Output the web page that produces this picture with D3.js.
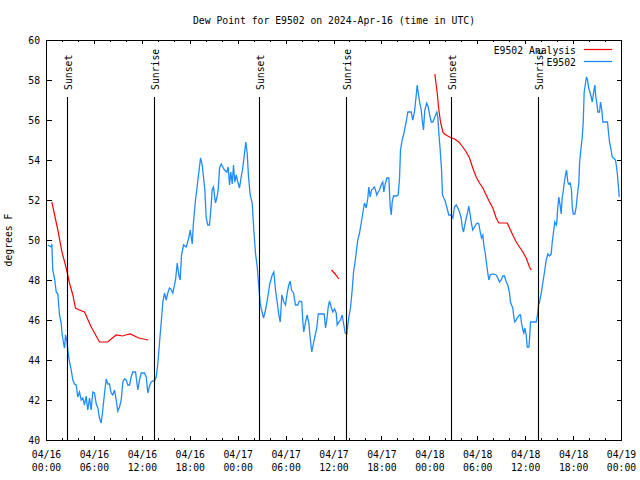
<!DOCTYPE html>
<html><head><meta charset="utf-8">
<script src="https://cdn.jsdelivr.net/npm/d3@7"></script>
<style>body{margin:0;background:#fff}svg{display:block}</style>
</head><body><svg id="c" width="640" height="480"></svg>
<script>
const chartTitle = "Dew Point for E9502 on 2024-Apr-16 (time in UTC)";
const yAxisLabel = "degrees F";
const startTime = "2024-04-16T00:00:00Z";
const endTime = "2024-04-19T00:00:00Z";
const yTicks = [40, 42, 44, 46, 48, 50, 52, 54, 56, 58, 60];
const seriesNames = ["E9502 Analysis", "E9502"];

// observed series: hours after 2024-04-16 00:00 UTC, and dew point (F)
const obsHours = [0.23,0.65,0.73,0.85,1.10,1.28,1.48,1.69,1.90,2.03,2.19,2.32,2.44,2.60,2.73,2.94,3.16,3.36,3.57,3.78,3.98,4.19,4.41,4.61,4.82,5.03,5.23,5.45,5.66,5.86,6.07,6.29,6.49,6.70,6.91,7.11,7.33,7.54,7.74,7.95,8.16,8.36,8.58,8.79,8.99,9.20,9.42,9.62,9.83,10.04,10.24,10.46,10.67,10.87,11.21,11.50,11.71,11.92,12.33,12.55,12.75,12.96,13.17,13.37,13.59,13.80,14.00,14.21,14.43,14.63,14.84,15.05,15.25,15.46,15.63,15.88,16.22,16.43,16.63,16.80,16.97,17.22,17.56,17.88,18.06,18.31,18.47,18.72,18.88,19.06,19.22,19.35,19.56,19.72,19.89,20.06,20.26,20.47,20.64,20.81,20.97,21.22,21.39,21.56,21.73,21.94,22.14,22.35,22.64,22.82,22.98,23.14,23.32,23.48,23.64,23.82,24.02,24.23,24.44,24.64,24.86,25.02,25.19,25.36,25.57,25.82,26.02,26.23,26.45,26.65,26.82,26.99,27.24,27.49,27.77,28.02,28.33,28.53,28.74,29.03,29.15,29.33,29.53,29.78,29.99,30.20,30.40,30.58,30.74,30.99,31.24,31.53,31.74,32.03,32.16,32.28,32.50,32.71,32.91,33.08,33.28,33.50,33.71,33.91,34.09,34.46,34.84,35.00,35.16,35.34,35.50,35.71,35.91,36.13,36.34,36.46,36.67,36.88,37.09,37.25,37.47,37.67,37.92,38.13,38.34,38.51,38.72,38.88,39.04,39.26,39.47,39.67,39.88,40.10,40.30,40.42,40.60,40.76,40.92,41.10,41.26,41.42,41.60,41.76,41.97,42.17,42.30,42.48,42.68,42.93,43.10,43.23,43.35,43.51,43.85,44.10,44.27,44.39,44.60,44.80,45.10,45.31,45.73,45.93,46.14,46.36,46.48,46.65,46.81,46.98,47.15,47.27,47.43,47.68,47.86,48.02,48.24,48.44,48.69,48.94,49.06,49.19,49.36,49.53,49.65,49.81,49.99,50.11,50.28,50.44,50.74,50.94,51.15,51.37,51.57,51.78,51.99,52.12,52.28,52.44,52.62,52.78,52.94,53.12,53.28,53.44,53.66,53.87,54.07,54.20,54.37,54.53,54.70,54.82,55.00,55.12,55.32,55.45,55.62,55.95,56.37,56.57,56.79,57.00,57.20,57.41,57.63,57.83,58.04,58.16,58.29,58.45,58.58,58.70,58.88,59.08,59.29,59.42,59.54,59.71,59.83,59.96,60.13,60.26,60.46,60.54,60.67,60.96,61.38,61.51,61.67,61.80,62.01,62.21,62.42,62.64,62.84,63.05,63.26,63.39,63.55,63.71,63.89,63.96,64.09,64.21,64.39,64.51,64.64,64.76,64.89,65.05,65.18,65.34,65.47,65.64,65.80,65.89,66.02,66.22,66.39,66.55,66.72,66.81,66.97,67.14,67.27,67.39,67.56,67.68,67.81,67.93,68.10,68.27,68.40,68.56,68.72,68.85,68.97,69.10,69.31,69.44,69.60,69.72,70.06,70.31,70.44,70.56,70.72,70.90,71.06,71.31,71.44,71.56,71.69,71.78];
const obsValues = [49.75,49.65,49.8,48.5,48.0,47.4,47.3,46.25,45.85,45.25,44.85,44.6,45.25,45.0,44.5,43.9,43.5,43.0,42.8,42.75,42.15,42.4,42.0,42.1,41.75,42.2,41.5,42.1,41.5,42.4,42.35,41.8,41.6,41.1,40.85,41.5,42.35,43.05,42.8,42.8,42.35,42.25,42.5,42.0,41.45,41.65,42.0,42.9,43.05,43.0,42.75,42.75,43.15,43.4,43.4,42.5,43.0,43.35,43.35,43.15,42.35,42.7,42.9,42.95,42.95,43.15,43.8,44.85,45.9,46.9,47.35,47.0,47.35,47.6,47.55,47.35,48.0,48.85,48.25,48.0,49.25,49.75,49.65,50.1,50.5,49.8,50.9,52.0,52.5,53.15,53.65,54.1,53.75,53.15,52.5,51.1,50.75,50.75,51.5,52.5,52.65,51.85,52.1,52.5,53.6,53.8,53.65,53.5,53.4,53.65,52.75,53.4,52.8,53.75,52.9,53.25,52.9,52.6,53.15,53.6,54.35,54.9,54.35,53.15,52.25,51.85,50.5,49.35,48.65,47.65,46.85,46.5,46.1,46.5,47.15,47.8,48.25,48.4,47.5,46.65,46.25,45.9,47.25,46.9,46.75,47.35,47.75,47.95,47.5,47.35,46.75,46.75,46.95,46.9,45.9,45.4,45.9,46.25,45.85,45.1,44.4,44.85,45.25,45.6,46.3,46.3,46.3,45.6,46.0,46.65,46.95,46.65,46.4,46.55,46.35,45.75,45.9,46.0,46.25,45.85,45.35,45.3,46.15,46.6,47.5,48.4,48.95,49.5,50.0,50.35,50.85,51.35,51.85,51.6,52.1,52.65,52.15,52.5,52.55,52.65,52.5,52.25,52.4,52.5,52.75,52.9,52.4,52.8,53.1,53.1,51.65,51.25,51.9,52.2,52.2,52.25,53.1,54.5,55.0,55.3,55.9,56.4,56.4,56.0,56.4,57.25,57.75,57.25,56.85,56.5,55.85,55.5,56.5,56.85,56.65,56.3,55.9,55.9,56.15,56.4,56.15,55.35,54.5,53.5,52.25,52.1,51.95,51.75,51.5,51.25,51.25,51.1,51.65,51.75,51.6,51.4,51.1,50.65,50.4,50.75,51.1,51.35,51.7,51.25,50.8,50.5,50.65,50.8,50.85,50.8,50.4,50.1,50.25,49.75,49.35,48.95,48.35,48.0,48.25,48.3,48.25,48.1,47.9,48.0,48.2,48.2,47.9,47.75,47.35,46.9,46.75,46.6,46.15,45.9,46.0,46.15,46.25,46.25,45.85,45.5,45.35,45.6,45.25,44.65,44.65,45.0,45.9,45.9,45.9,46.15,46.75,46.9,47.35,47.85,48.4,49.0,49.3,49.2,49.3,49.9,50.4,50.9,50.75,50.9,51.65,52.15,51.7,51.3,52.15,52.4,52.85,53.25,53.5,52.9,52.8,52.85,52.5,51.7,51.3,51.3,51.65,52.3,52.85,53.85,54.5,55.1,55.9,57.4,57.85,58.15,58.0,57.65,57.4,57.15,56.9,57.35,57.75,57.15,56.85,56.4,56.4,56.9,56.5,55.9,55.9,55.9,55.35,54.9,54.6,54.15,54.1,54.0,53.65,53.25,52.6,52.15];

// analysis series (null marks a gap)
const anaHours = [0.73,1.48,2.03,2.53,2.94,3.36,3.69,4.19,4.82,5.66,6.70,7.74,8.16,8.79,9.62,9.95,10.54,11.08,11.62,12.80,null,35.75,36.20,36.67,null,48.69,48.99,49.15,49.40,49.69,49.90,50.53,51.15,51.69,52.19,52.62,53.03,53.44,53.87,54.28,54.70,55.12,55.54,55.95,56.37,56.70,57.75,58.04,58.45,58.88,59.29,59.71,60.13,60.54,60.76];
const anaValues = [51.9,50.5,49.35,48.6,47.85,47.25,46.6,46.5,46.4,45.65,44.9,44.9,45.05,45.25,45.2,45.25,45.3,45.2,45.1,45.0,null,48.5,48.3,48.05,null,58.3,57.35,56.65,55.9,55.4,55.3,55.15,55.05,54.9,54.65,54.4,54.1,53.6,53.15,52.85,52.6,52.25,51.9,51.6,51.1,50.85,50.85,50.6,50.25,49.9,49.65,49.4,49.1,48.65,48.5];

const sunLabels = ["Sunset","Sunrise","Sunset","Sunrise","Sunset","Sunrise"];
const sunTimes = ["2024-04-16T02:36:00Z","2024-04-16T13:30:00Z","2024-04-17T02:39:00Z","2024-04-17T13:32:00Z","2024-04-18T02:41:00Z","2024-04-18T13:34:00Z"];
const sunLineTop = 57.15;
const sunLabelAt = 57.5;

const FONT = "DejaVu Sans Mono";
const FS = 11;
const CW = 5.88;
const t0 = new Date(startTime).getTime();
const toDate = h => new Date(t0 + h * 3600000);

const x = d3.scaleUtc().domain([new Date(startTime), new Date(endTime)]).range([46, 621]);
const y = d3.scaleLinear().domain([40, 60]).range([440, 40]);
const svg = d3.select("#c");

function fit(sel) {
  sel.each(function () {
    const s = this.textContent;
    if (s.length) {
      this.setAttribute("textLength", (s.length * CW).toFixed(2));
      this.setAttribute("lengthAdjust", "spacingAndGlyphs");
    }
  });
}
function txt(g) { return g.attr("font-family", FONT).attr("font-size", FS).attr("fill", "#000"); }

const [d0, d1] = x.domain();
const majorT = d3.utcHour.every(6).range(d0, new Date(d1.getTime() + 1));
const minorT = d3.utcHour.every(2).range(d0, new Date(d1.getTime() + 1)).filter(d => d.getUTCHours() % 6 !== 0);

function styleAxis(g) {
  g.select(".domain").remove();
  g.selectAll("line").attr("stroke", "#000").attr("shape-rendering", "crispEdges");
  g.attr("font-family", FONT).attr("font-size", FS);
}

// bottom & top axes
svg.append("g").attr("transform", "translate(0,440)")
  .call(d3.axisBottom(x).tickValues(majorT).tickSize(-4).tickFormat("")).call(styleAxis);
svg.append("g").attr("transform", "translate(0,440)")
  .call(d3.axisBottom(x).tickValues(minorT).tickSize(-2).tickFormat("")).call(styleAxis);
svg.append("g").attr("transform", "translate(0,40)")
  .call(d3.axisTop(x).tickValues(majorT).tickSize(-4).tickFormat("")).call(styleAxis);
svg.append("g").attr("transform", "translate(0,40)")
  .call(d3.axisTop(x).tickValues(minorT).tickSize(-2).tickFormat("")).call(styleAxis);

// left & right axes
const gy = svg.append("g").attr("transform", "translate(46.5,0)")
  .call(d3.axisLeft(y).tickValues(yTicks).tickSize(-5).tickPadding(6.5).tickFormat(d3.format("d"))).call(styleAxis);
gy.selectAll("text").attr("fill", "#000").call(fit);
svg.append("g").attr("transform", "translate(621.5,0)")
  .call(d3.axisRight(y).tickValues(yTicks).tickSize(-5).tickFormat("")).call(styleAxis);

// x tick labels (two lines)
const fmtDay = d3.utcFormat("%m/%d"), fmtHour = d3.utcFormat("%H:%M");
const xl = svg.append("g").call(txt).attr("text-anchor", "middle");
majorT.forEach(d => {
  const cx = x(d) + 0.5;
  xl.append("text").attr("x", cx).attr("y", 458).text(fmtDay(d)).call(fit);
  xl.append("text").attr("x", cx).attr("y", 471).text(fmtHour(d)).call(fit);
});

// frame
svg.append("rect").attr("x", 46.5).attr("y", 40.5).attr("width", 575).attr("height", 400)
  .attr("fill", "none").attr("stroke", "#000").attr("stroke-width", 1).attr("shape-rendering", "crispEdges");

// clip
svg.append("clipPath").attr("id", "plot").append("rect").attr("x", 46.5).attr("y", 40.5).attr("width", 575).attr("height", 400);

const obs = obsHours.map((h, i) => ({ t: toDate(h), v: obsValues[i] }));
const ana = anaHours.map((h, i) => ({ t: h == null ? null : toDate(h), v: anaValues[i] }));
const line = d3.line().defined(d => d.v != null && d.t != null).x(d => x(d.t)).y(d => y(d.v));

const gd = svg.append("g").attr("clip-path", "url(#plot)");
gd.append("path").datum(ana).attr("d", line).attr("fill", "none").attr("stroke", "#ff0000").attr("stroke-width", 1.2);
gd.append("path").datum(obs).attr("d", line).attr("fill", "none").attr("stroke", "#1e8cff").attr("stroke-width", 1.3);

// sunrise / sunset markers
const gs = svg.append("g");
sunTimes.forEach((s, i) => {
  const sx = Math.round(x(new Date(s))) + 0.5;
  gs.append("line").attr("x1", sx).attr("x2", sx).attr("y1", y(sunLineTop)).attr("y2", y(40))
    .attr("stroke", "#000").attr("stroke-width", 1.1);
  gs.append("text").call(txt).attr("transform", `translate(${sx + 4.5},${y(sunLabelAt)}) rotate(-90)`)
    .attr("text-anchor", "start").text(sunLabels[i]).call(fit);
});

// title and y label
svg.append("text").call(txt).attr("x", 334).attr("y", 23.5).attr("text-anchor", "middle").text(chartTitle).call(fit);
svg.append("text").call(txt).attr("transform", "translate(12,240) rotate(-90)").attr("text-anchor", "middle").text(yAxisLabel).call(fit);

// legend
const legColors = ["#ff0000", "#1e8cff"];
const lg = svg.append("g");
seriesNames.forEach((n, i) => {
  const ly = 49.5 + i * 12;
  lg.append("text").call(txt).attr("x", 576).attr("y", ly + 4.5).attr("text-anchor", "end").text(n).call(fit);
  lg.append("line").attr("x1", 584).attr("x2", 612).attr("y1", ly).attr("y2", ly)
    .attr("stroke", legColors[i]).attr("stroke-width", i ? 1.3 : 1.2);
});
</script>
</body></html>
